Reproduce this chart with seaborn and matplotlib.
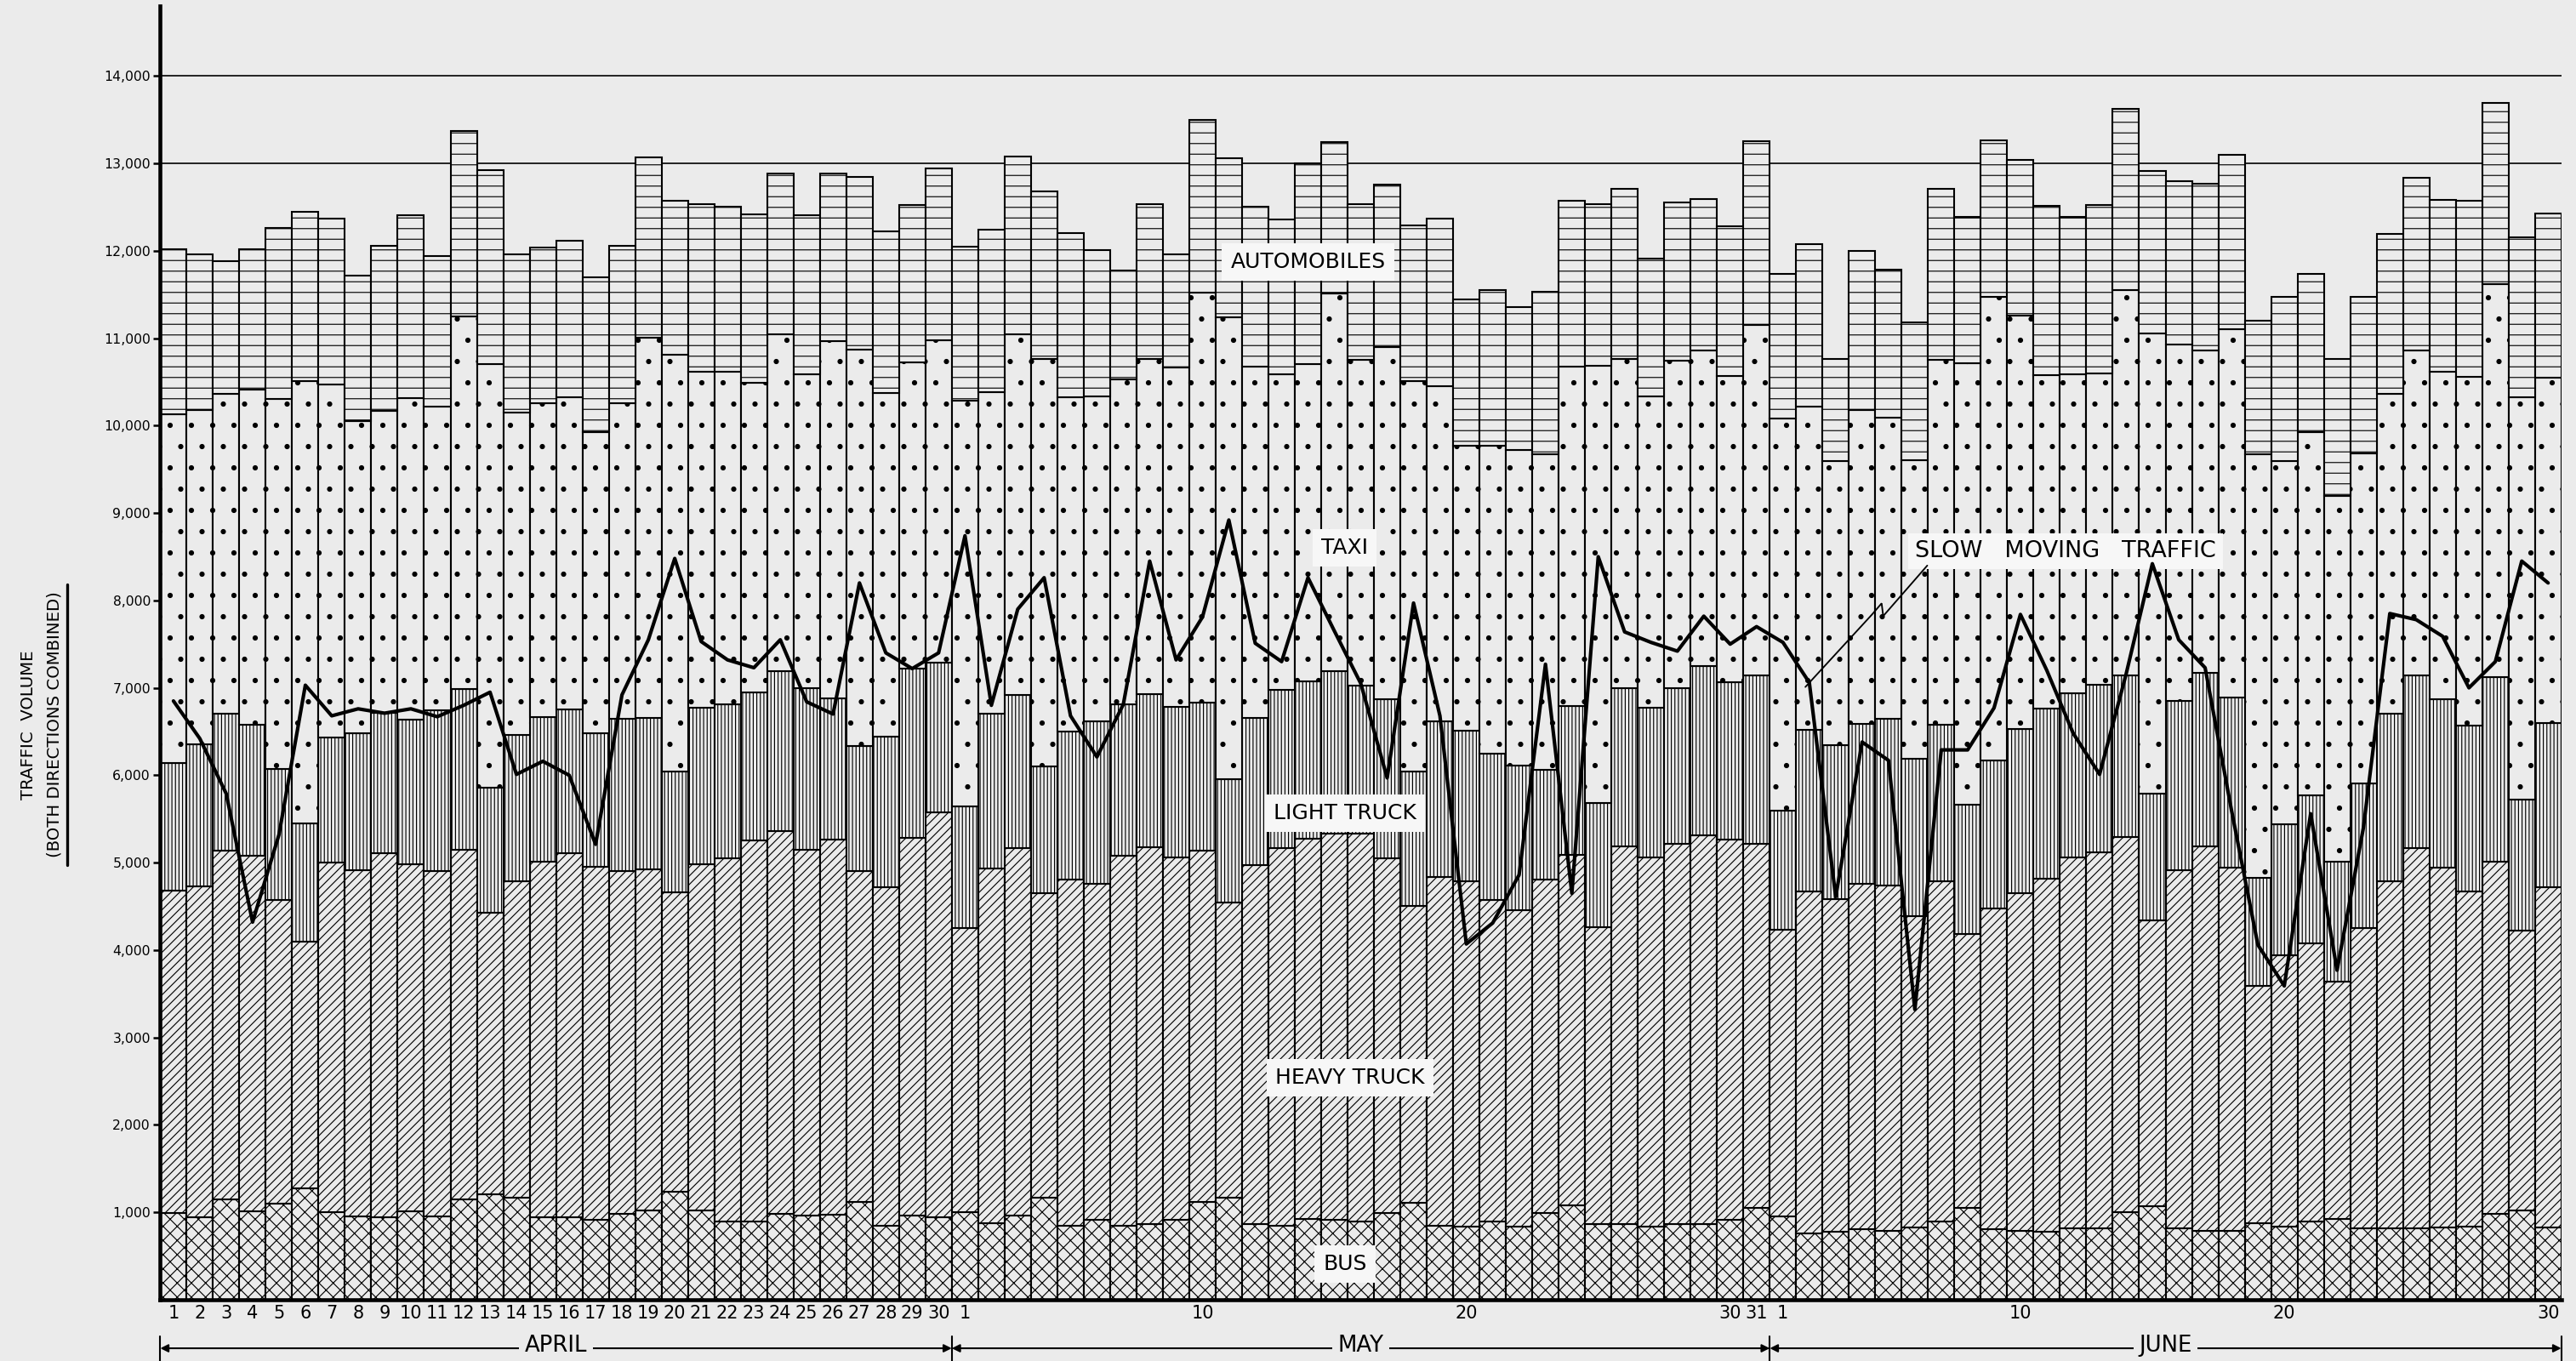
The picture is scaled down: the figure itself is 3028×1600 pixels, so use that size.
import numpy as np
import pandas as pd
import matplotlib
matplotlib.use("Agg")
import matplotlib.pyplot as plt
import matplotlib.transforms as mtransforms
from matplotlib.lines import Line2D
import seaborn as sns

# ------------------------------------------------------------------ data
april_days = list(range(1, 31))
may_days = list(range(1, 32))
june_days = list(range(1, 31))
months = ["APRIL", "MAY", "JUNE"]
may_labelled = [1, 10, 20, 30, 31]
june_labelled = [1, 10, 20, 30]
y_ticks = list(range(1000, 15000, 1000))

bus = [990, 940, 1150, 1010, 1100, 1270, 1000, 950, 940, 1010, 950, 1150, 1210, 1170, 940,
       940, 910, 980, 1020, 1240, 1020, 900, 900, 980, 960, 970, 1120, 850, 960, 940,
       1000, 880, 960, 1170, 850, 910, 850, 870, 910, 1120, 1170, 870, 850, 920, 910, 900,
       990, 1110, 850, 840, 900, 840, 990, 1080, 870, 870, 840, 870, 870, 910, 1050,
       950, 760, 780, 810, 790, 830, 900, 1050, 810, 790, 780, 820, 820, 1000, 1070,
       820, 790, 790, 880, 840, 900, 920, 820, 820, 820, 830, 840, 980, 1020, 830]

heavy_truck = [3690, 3790, 3990, 4070, 3470, 2830, 4000, 3960, 4170, 3970, 3950, 4000, 3220, 3620, 4070,
               4170, 4040, 3920, 3900, 3420, 3960, 4150, 4350, 4380, 4190, 4290, 3780, 3870, 4320, 4640,
               3250, 4050, 4210, 3480, 3960, 3850, 4230, 4310, 4150, 4020, 3370, 4100, 4320, 4350, 4420, 4430,
               4060, 3400, 3990, 3950, 3670, 3620, 3820, 4010, 3390, 4320, 4220, 4350, 4440, 4350, 4170,
               3280, 3910, 3800, 3950, 3950, 3560, 3890, 3130, 3670, 3860, 4040, 4240, 4300, 4290, 3270,
               4090, 4400, 4150, 2710, 3100, 3180, 2720, 3430, 3970, 4350, 4110, 3830, 4030, 3200, 3890]

light_truck = [1460, 1620, 1560, 1500, 1500, 1350, 1430, 1570, 1600, 1660, 1840, 1840, 1430, 1670, 1660,
               1640, 1530, 1750, 1740, 1380, 1790, 1760, 1700, 1830, 1850, 1620, 1430, 1720, 1940, 1710,
               1390, 1770, 1750, 1450, 1690, 1860, 1730, 1750, 1720, 1690, 1420, 1690, 1810, 1800, 1860, 1700,
               1820, 1530, 1780, 1720, 1680, 1650, 1250, 1700, 1420, 1810, 1710, 1780, 1940, 1800, 1920,
               1370, 1850, 1760, 1830, 1910, 1800, 1790, 1480, 1690, 1880, 1940, 1880, 1920, 1850, 1450,
               1940, 1980, 1950, 1240, 1500, 1690, 1370, 1660, 1910, 1970, 1930, 1900, 2110, 1500, 1880]

taxi = [3990, 3830, 3660, 3830, 4230, 5060, 4040, 3570, 3460, 3670, 3480, 4260, 4840, 3690, 3590,
        3570, 3450, 3610, 4350, 4770, 3850, 3810, 3540, 3850, 3590, 4090, 4540, 3930, 3500, 3690,
        4650, 3680, 4120, 4660, 3820, 3710, 3720, 3830, 3880, 4690, 5280, 4010, 3610, 3630, 4320, 3720,
        4030, 4470, 3830, 3260, 3520, 3610, 3610, 3880, 5000, 3760, 3560, 3740, 3610, 3510, 4010,
        4480, 3700, 3250, 3590, 3440, 3410, 4170, 5050, 5300, 4730, 3820, 3650, 3560, 4410, 5260,
        4080, 3690, 4210, 4840, 4150, 4160, 4190, 3770, 3660, 3720, 3750, 3990, 4500, 4600, 3950]

automobiles = [1890, 1780, 1520, 1610, 1960, 1940, 1900, 1670, 1890, 2100, 1720, 2120, 2220, 1810, 1780,
               1790, 1770, 1800, 2060, 1760, 1910, 1880, 1930, 1840, 1820, 1910, 1970, 1850, 1800, 1960,
               1760, 1860, 2040, 1920, 1880, 1680, 1240, 1770, 1300, 1980, 1820, 1830, 1770, 2300, 1730, 1780,
               1860, 1780, 1920, 1670, 1780, 1640, 1860, 1900, 1850, 1950, 1580, 1810, 1730, 1710, 2100,
               1660, 1860, 1170, 1820, 1690, 1580, 1960, 1680, 1790, 1780, 1930, 1800, 1920, 2070, 1860,
               1870, 1910, 2000, 1530, 1880, 1810, 1560, 1790, 1830, 1970, 1960, 2010, 2070, 1830, 1880]

slow_moving = [6850, 6420, 5790, 4320, 5320, 7030, 6680, 6760, 6710, 6760, 6670, 6800, 6950, 6010, 6160,
               6000, 5210, 6920, 7550, 8480, 7530, 7320, 7230, 7550, 6840, 6700, 8200, 7400, 7220, 7400,
               8740, 6800, 7900, 8260, 6680, 6210, 6810, 8450, 7320, 7810, 8920, 7510, 7300, 8260, 7650, 7050,
               5970, 7970, 6680, 4070, 4310, 4860, 7270, 4650, 8500, 7640, 7520, 7420, 7820, 7500, 7700,
               7520, 7060, 4610, 6380, 6170, 3320, 6290, 6290, 6770, 7840, 7200, 6480, 6010, 7150, 8420,
               7550, 7230, 5600, 4060, 3590, 5560, 3770, 5400, 7850, 7780, 7590, 7000, 7300, 8450, 8200]

# ------------------------------------------------------------------ table
month_col = ["APRIL"] * len(april_days) + ["MAY"] * len(may_days) + ["JUNE"] * len(june_days)
day_col = april_days + may_days + june_days
df = pd.DataFrame({"month": month_col, "day": day_col, "bus": bus, "heavy": heavy_truck,
                   "light": light_truck, "taxi": taxi, "auto": automobiles, "slow": slow_moving})
df["pos"] = np.arange(len(df))
n = len(df)

# ------------------------------------------------------------------ style
PAPER = "#ebebeb"
LABEL_BG = "#f7f7f7"
DPI = 150
sns.set_theme(style="white")
plt.rcParams["font.family"] = ["DejaVu Sans"]
plt.rcParams["hatch.linewidth"] = 0.55
plt.rcParams["hatch.color"] = "black"

fig = plt.figure(figsize=(3028 / DPI, 1600 / DPI), dpi=DPI, facecolor=PAPER)
ax = fig.add_axes([0.0622, 0.045, 0.9321, 0.9506])
ax.set_facecolor(PAPER)

# stacked bars
layers = [("bus", "xxx"), ("heavy", "/////"), ("light", "||||||"), ("taxi", "."), ("auto", "--")]
bottom = np.zeros(n)
for col, hatch in layers:
    vals = df[col].to_numpy(dtype=float)
    ax.bar(df["pos"], vals, bottom=bottom, width=1.0, color=PAPER, edgecolor="black",
           linewidth=1.0, hatch=hatch, zorder=2)
    bottom += vals

# reference lines above the bars
for lvl in (13000, 14000):
    ax.axhline(lvl, color="black", lw=0.8, zorder=0.5)

# slow moving traffic line
sns.lineplot(data=df, x="pos", y="slow", color="black", linewidth=2.0, ax=ax, zorder=5,
             legend=False)
ax.set_xlabel("")
ax.set_ylabel("")

# axes limits / ticks
ax.set_xlim(-0.5, n - 0.5)
ax.set_ylim(0, 14800)
ax.set_yticks(y_ticks)
ax.set_yticklabels([f"{v:,}" for v in y_ticks])
ax.tick_params(axis="y", length=4, width=1.2, direction="out", pad=1.5, labelsize=7.5,
               colors="black", left=True)

start_may = len(april_days)
start_june = len(april_days) + len(may_days)
xt_pos = [d - 1 for d in april_days] + [start_may + d - 1 for d in may_labelled] + \
         [start_june + d - 1 for d in june_labelled]
xt_lab = [str(d) for d in april_days] + [str(d) for d in may_labelled] + [str(d) for d in june_labelled]
ax.set_xticks(xt_pos)
ax.set_xticklabels(xt_lab)
ax.tick_params(axis="x", length=0, pad=3, labelsize=10, colors="black")

for side in ("top", "right"):
    ax.spines[side].set_visible(False)
for side in ("left", "bottom"):
    ax.spines[side].set_color("black")
    ax.spines[side].set_linewidth(2.2)
ax.grid(False)

# category labels
box = dict(boxstyle="square,pad=0.4", fc=LABEL_BG, ec="none")
labels = [("AUTOMOBILES", 43.0, 11870), ("TAXI", 44.4, 8600), ("LIGHT TRUCK", 44.4, 5570),
          ("HEAVY TRUCK", 44.6, 2540), ("BUS", 44.4, 410)]
for txt, xx, yy in labels:
    ax.text(xx, yy, txt, ha="center", va="center", fontsize=12, color="black",
            bbox=box, zorder=4)

# slow moving traffic annotation with zig-zag leader
ax.text(71.7, 8560, "SLOW   MOVING   TRAFFIC", ha="center", va="center", fontsize=13,
        color="black", bbox=dict(boxstyle="square,pad=0.3", fc=LABEL_BG, ec="none"), zorder=4)
ref_i = start_june + 1
x0, y0 = ref_i - 0.15, df["slow"].iloc[ref_i] - 50
lead_dx = [0, 2.52, 2.89, 2.95, 4.62]
lead_dy = [0, 827, 957, 811, 1389]
ax.plot([x0 + d for d in lead_dx], [y0 + d for d in lead_dy], color="black", lw=0.9,
        zorder=6, solid_joinstyle="miter")

# month brackets
trans = mtransforms.blended_transform_factory(ax.transData, ax.transAxes)
bounds = [-0.5, start_may - 0.5, start_june - 0.5, n - 0.5]
y_line = -0.0375
for i, m in enumerate(months):
    a, b = bounds[i], bounds[i + 1]
    ax.annotate("", xy=(a, y_line), xytext=(b, y_line), xycoords=trans, textcoords=trans,
                arrowprops=dict(arrowstyle="<|-|>", color="black", lw=1.0, mutation_scale=9,
                                shrinkA=0, shrinkB=0), annotation_clip=False)
    ax.text((a + b) / 2, y_line + 0.002, m, transform=trans, ha="center", va="center",
            fontsize=12.5, color="black",
            bbox=dict(boxstyle="square,pad=0.25", fc=PAPER, ec="none"), clip_on=False, zorder=6)
for bx in bounds:
    ax.plot([bx, bx], [-0.028, -0.048], transform=trans, color="black", lw=1.0, clip_on=False)

# y axis title
fig.text(0.0109, 0.4675, "TRAFFIC  VOLUME", rotation=90, ha="center", va="center",
         fontsize=9.5, color="black")
fig.text(0.0212, 0.4675, "(BOTH DIRECTIONS COMBINED)", rotation=90, ha="center", va="center",
         fontsize=9.5, color="black")
fig.add_artist(Line2D([0.0262, 0.0262], [0.4675 - 0.103, 0.4675 + 0.103],
                      transform=fig.transFigure, color="black", lw=1.6))

fig.savefig("out.png", dpi=DPI, facecolor=fig.get_facecolor())
